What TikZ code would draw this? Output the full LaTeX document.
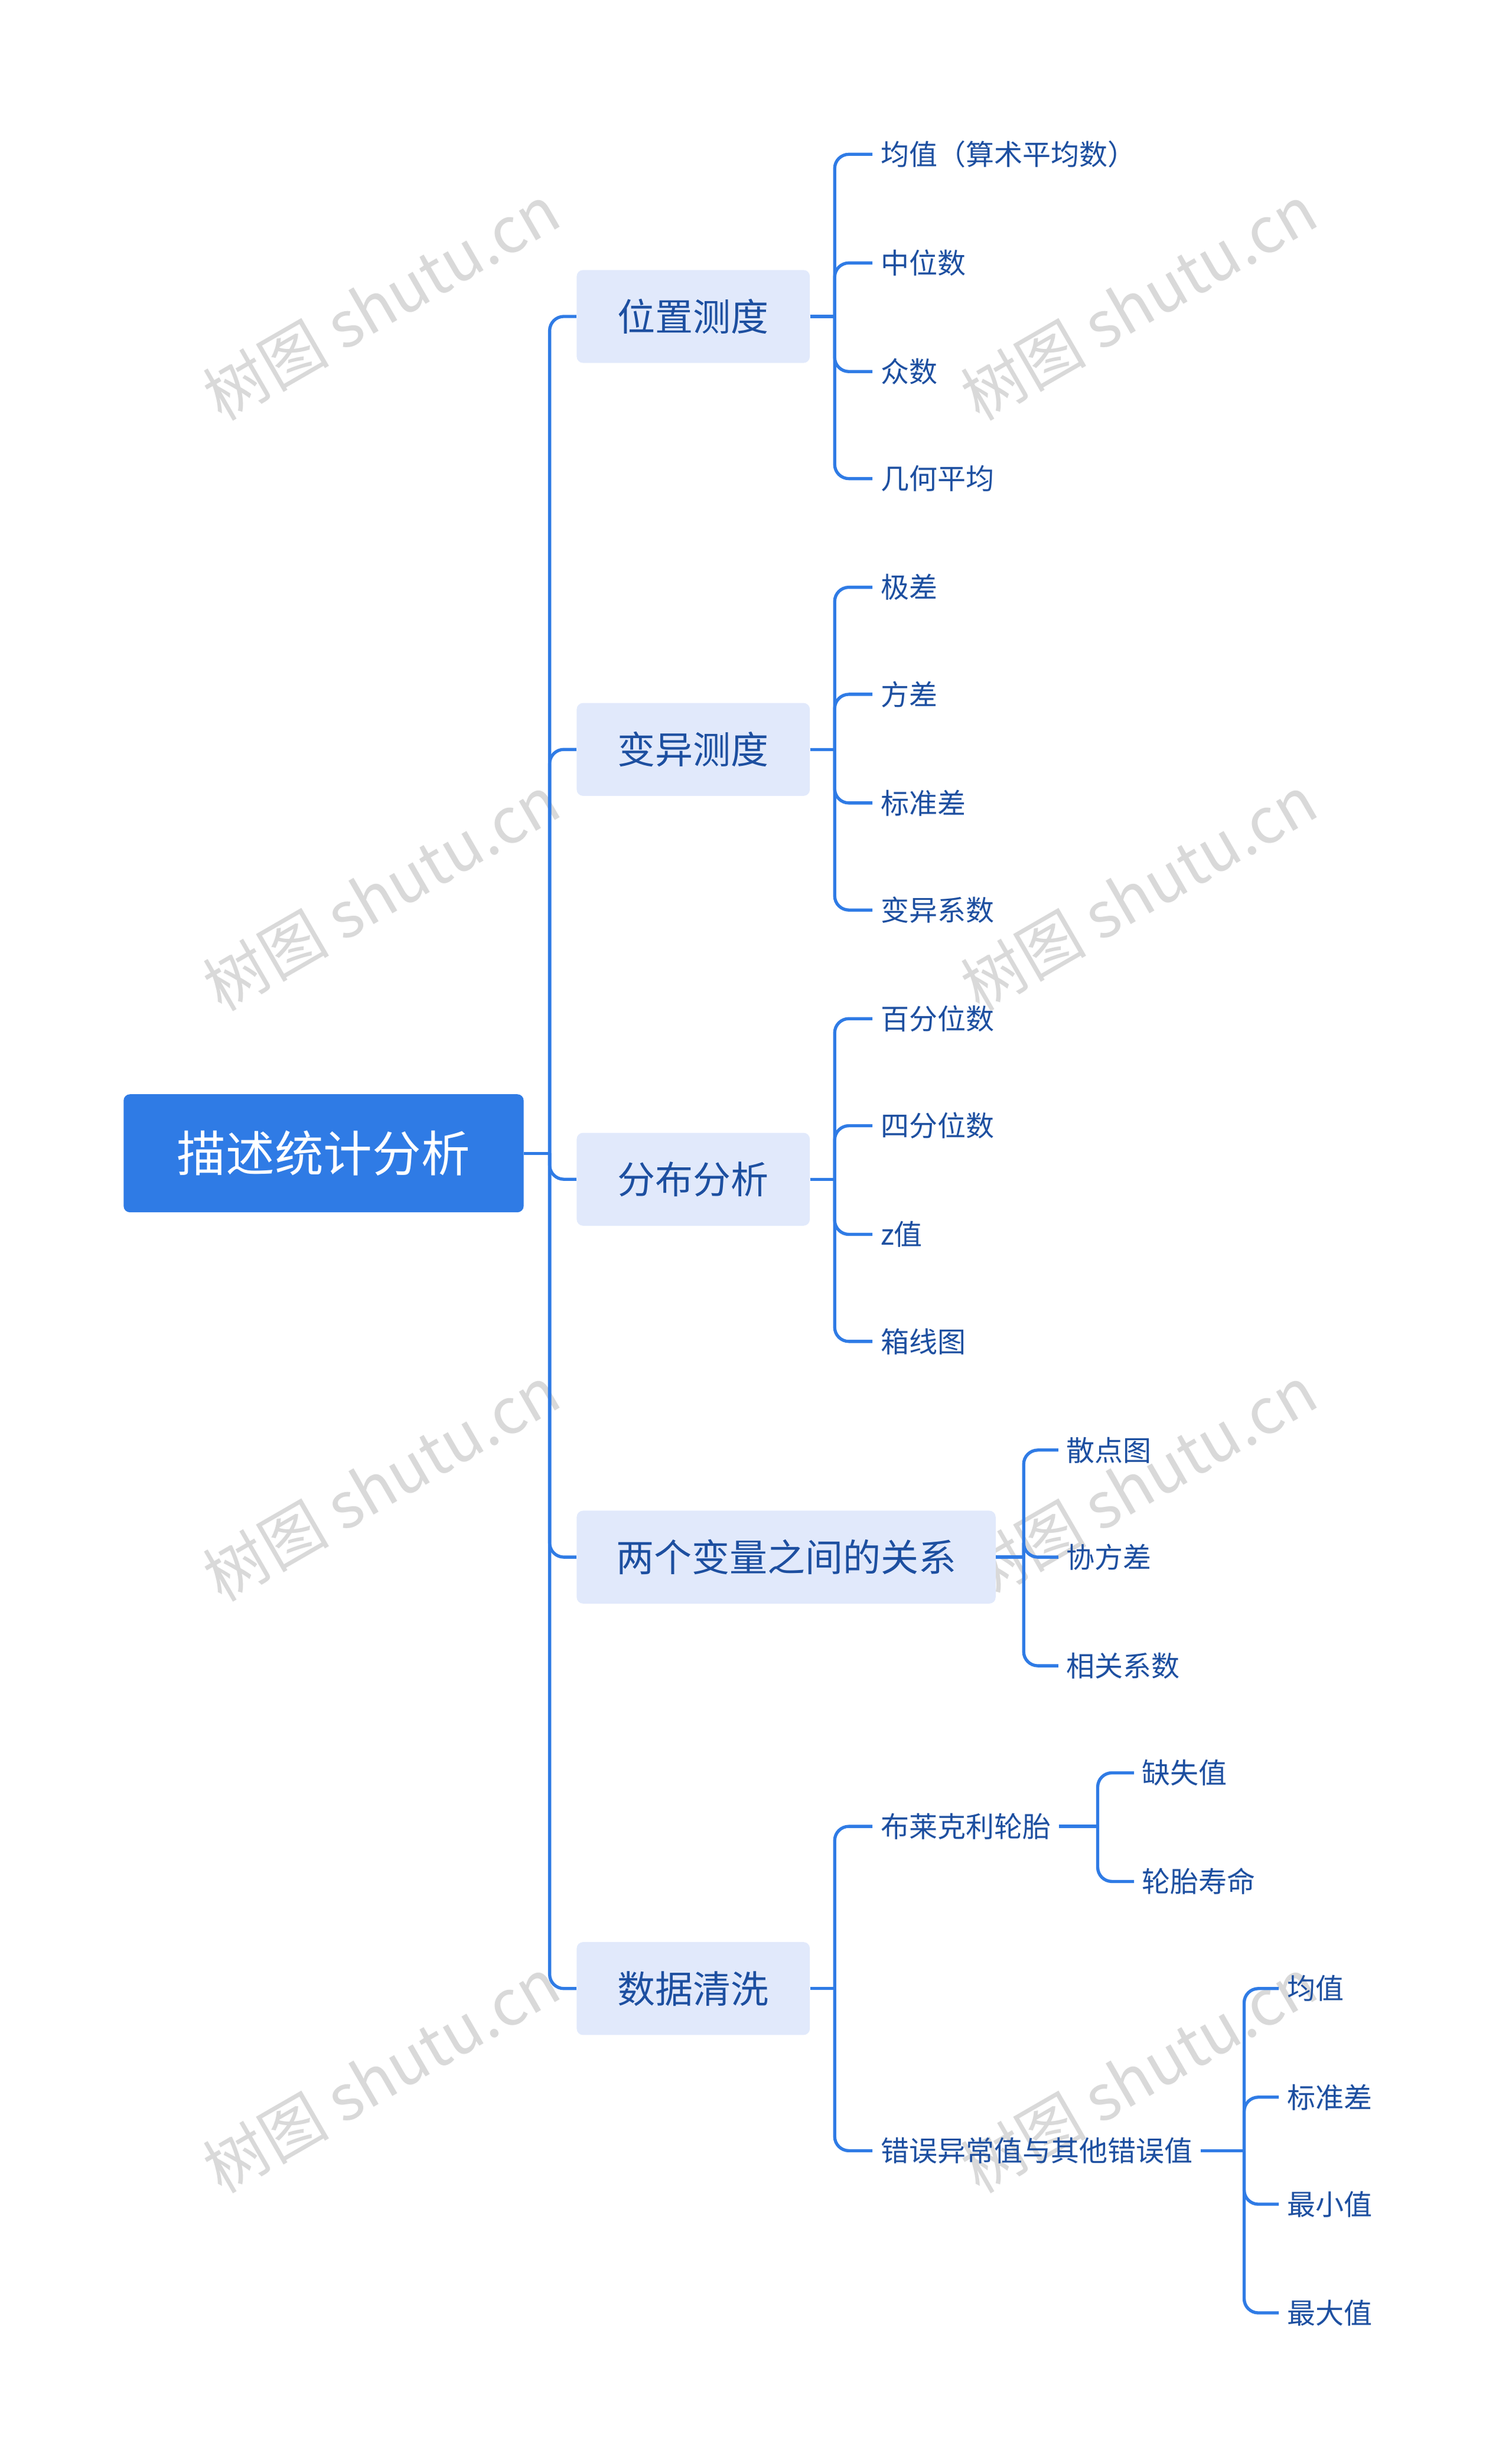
\documentclass[tikz,border=0pt]{standalone}
\usepackage{fontspec}
\setmainfont{Noto Sans CJK SC}
\definecolor{mainblue}{HTML}{2F7BE5}
\definecolor{lightfill}{HTML}{E1E9FB}
\definecolor{txtblue}{HTML}{1D4FA0}
\definecolor{wm}{HTML}{D9D9D9}
\tikzset{
 rootbox/.style={fill=mainblue,rounded corners=4pt,text=white,font=\fontsize{31}{36}\selectfont,minimum width=254pt,minimum height=75pt,inner sep=0},
 lvbox/.style={fill=lightfill,rounded corners=4pt,text=txtblue,font=\fontsize{24}{28}\selectfont,minimum height=59pt,inner xsep=13pt,anchor=west},
 leaf/.style={text=txtblue,font=\fontsize{18}{22}\selectfont,inner xsep=5pt,inner ysep=2pt,anchor=west},
 conn/.style={draw=mainblue,line width=2pt,rounded corners=9pt},
 wmark/.style={text=wm,font=\fontsize{40}{44}\selectfont,rotate=30}
}
\newcommand{\br}[3]{\draw[conn] (#1.east) -- (#2,0 |- #1.east);\draw[conn] (#2,0 |- #1.east) -- (#2,0 |- #3.west) -- (#3.west);}
\begin{document}
\begin{tikzpicture}[x=1pt,y=-1pt]
\useasboundingbox (0,0) rectangle (960,1565);
\foreach \x in {242,723}\foreach \y in {192,567,942,1318}{\node[wmark] at (\x,\y) {树图 shutu.cn};}
\node[rootbox] (root) at (205.5,732.5) {描述统计分析};
\node[lvbox,minimum width=148pt] (a) at (366,201) {位置测度};
\node[lvbox,minimum width=148pt] (b) at (366,476) {变异测度};
\node[lvbox,minimum width=148pt] (c) at (366,749) {分布分析};
\node[lvbox,minimum width=266pt] (d) at (366,989) {两个变量之间的关系};
\node[lvbox,minimum width=148pt] (e) at (366,1263) {数据清洗};
\foreach \n in {a,b,c,d,e}{\br{root}{349}{\n}}
\node[leaf] (a1) at (554,98) {均值（算术平均数）};
\node[leaf] (a2) at (554,167) {中位数};
\node[leaf] (a3) at (554,236) {众数};
\node[leaf] (a4) at (554,304) {几何平均};
\foreach \n in {a1,a2,a3,a4}{\br{a}{530}{\n}}
\node[leaf] (b1) at (554,373) {极差};
\node[leaf] (b2) at (554,441) {方差};
\node[leaf] (b3) at (554,510) {标准差};
\node[leaf] (b4) at (554,578) {变异系数};
\foreach \n in {b1,b2,b3,b4}{\br{b}{530}{\n}}
\node[leaf] (c1) at (554,647) {百分位数};
\node[leaf] (c2) at (554,715) {四分位数};
\node[leaf] (c3) at (554,784) {z值};
\node[leaf] (c4) at (554,852) {箱线图};
\foreach \n in {c1,c2,c3,c4}{\br{c}{530}{\n}}
\node[leaf] (d1) at (672,921) {散点图};
\node[leaf] (d2) at (672,989) {协方差};
\node[leaf] (d3) at (672,1058) {相关系数};
\foreach \n in {d1,d2,d3}{\br{d}{650}{\n}}
\node[leaf] (e1) at (554,1160) {布莱克利轮胎};
\node[leaf] (e2) at (554,1366) {错误异常值与其他错误值};
\foreach \n in {e1,e2}{\br{e}{530}{\n}}
\node[leaf] (f1) at (720,1126) {缺失值};
\node[leaf] (f2) at (720,1195) {轮胎寿命};
\foreach \n in {f1,f2}{\br{e1}{697}{\n}}
\node[leaf] (g1) at (812,1263) {均值};
\node[leaf] (g2) at (812,1332) {标准差};
\node[leaf] (g3) at (812,1400) {最小值};
\node[leaf] (g4) at (812,1469) {最大值};
\foreach \n in {g1,g2,g3,g4}{\br{e2}{790}{\n}}
\end{tikzpicture}
\end{document}
